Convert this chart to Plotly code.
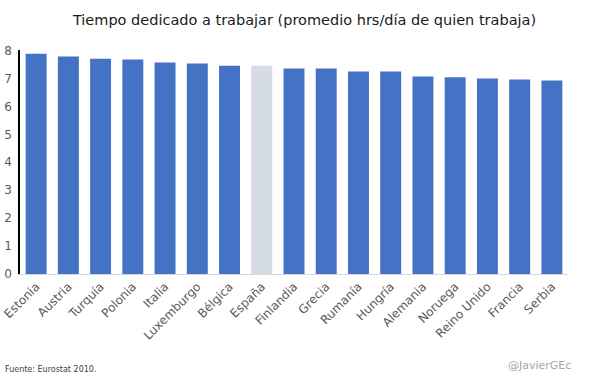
import plotly.graph_objects as go

paises = ["Estonia", "Austria", "Turquía", "Polonia", "Italia", "Luxemburgo", "Bélgica",
          "España", "Finlandia", "Grecia", "Rumanía", "Hungría", "Alemania", "Noruega",
          "Reino Unido", "Francia", "Serbia"]
horas = [7.89, 7.79, 7.71, 7.68, 7.57, 7.54, 7.46, 7.46, 7.36, 7.36, 7.25, 7.25,
         7.07, 7.04, 7.00, 6.96, 6.93]
y_ticks = [0, 1, 2, 3, 4, 5, 6, 7, 8]

colores = ["#D6DCE5" if p == "España" else "#4472C4" for p in paises]

FONT = "DejaVu Sans"

fig = go.Figure(go.Bar(x=paises, y=horas, marker=dict(color=colores, line=dict(width=0))))

fig.update_layout(
    width=609, height=381,
    margin=dict(l=20, r=41, t=50, b=107),
    paper_bgcolor="white", plot_bgcolor="white",
    bargap=0.35,
    showlegend=False,
    font=dict(family=FONT, color="#595959", size=11),
    title=dict(text="Tiempo dedicado a trabajar (promedio hrs/día de quien trabaja)",
               xref="container", x=0.5, xanchor="center", y=0.947, yanchor="middle",
               font=dict(family=FONT, size=14.5, color="#1a1a1a")),
    xaxis=dict(tickangle=-45, showgrid=False, showline=True, linecolor="#d9d9d9",
               linewidth=1, ticks="", automargin=False,
               tickfont=dict(size=12, color="#595959")),
    yaxis=dict(range=[0, 8.02], tickvals=y_ticks, showgrid=False, showline=True,
               linecolor="black", linewidth=1.5, ticks="", zeroline=False, automargin=False,
               tickfont=dict(size=12, color="#595959"), ticklabelstandoff=4),
    annotations=[
        dict(text="Fuente: Eurostat 2010.", xref="paper", yref="paper", x=-0.031, y=-0.427,
             xanchor="left", yanchor="middle", showarrow=False,
             font=dict(family=FONT, size=8, color="#404040")),
        dict(text="@JavierGEc", xref="paper", yref="paper", x=1.01, y=-0.41,
             xanchor="right", yanchor="middle", showarrow=False,
             font=dict(family=FONT, size=11, color="#a6a6a6")),
    ],
)

fig.write_html("out.html", config={"displayModeBar": False},
               post_script="document.body.style.margin='0';")
